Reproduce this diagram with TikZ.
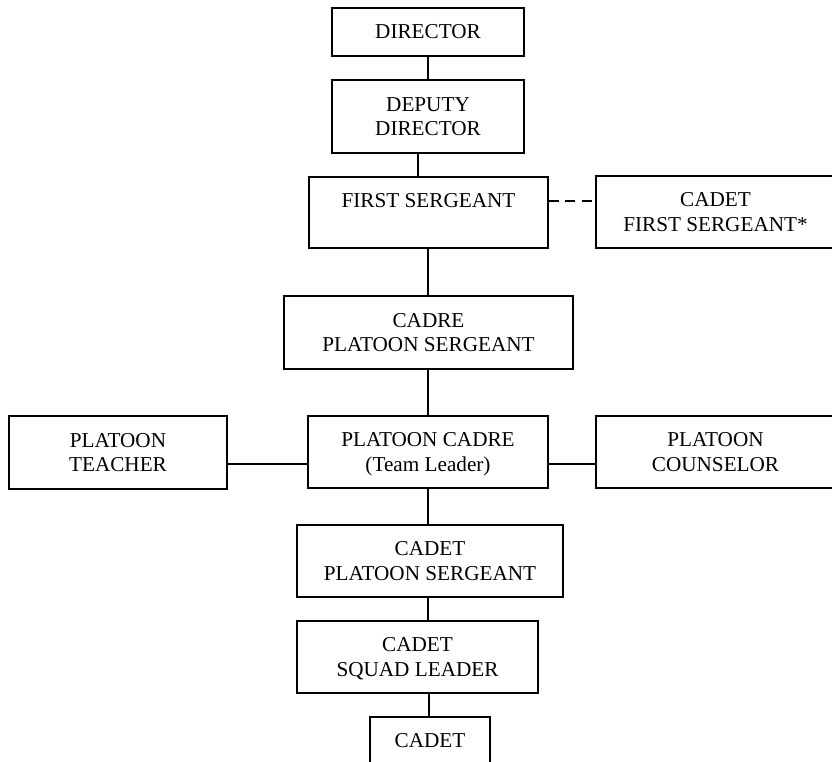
\documentclass[tikz,border=0pt]{standalone}
\usepackage{fontspec}
\setmainfont{Liberation Serif}
\begin{document}
\begin{tikzpicture}[x=1pt,y=-1pt,
  box/.style={draw=black,line width=1.3pt,rectangle,inner sep=0pt,align=center,
    font=\fontsize{21.2}{24.3}\selectfont},
  link/.style={draw=black,line width=1.1pt},
  dlink/.style={link,dash pattern=on 10pt off 6.5pt}]
\useasboundingbox (0,0) rectangle (832,762);
\clip (0,0) rectangle (832,762);
\node[box,minimum width=192pt,minimum height=48pt] (dir) at (428,32) {DIRECTOR};
\node[box,minimum width=192pt,minimum height=73pt] (dep) at (428,116.5) {DEPUTY\\DIRECTOR};
\node[box,minimum width=239pt,minimum height=71pt] (fs) at (428.5,212.5) {FIRST SERGEANT\\\mbox{}};
\node[box,minimum width=239pt,minimum height=72pt] (cfs) at (715.5,212) {CADET\\FIRST SERGEANT*};
\node[box,minimum width=289pt,minimum height=73pt] (cps) at (428.5,332.5) {CADRE\\PLATOON SERGEANT};
\node[box,minimum width=218pt,minimum height=73pt] (pt) at (118,452.5) {PLATOON\\TEACHER};
\node[box,minimum width=240pt,minimum height=72pt] (pc) at (428,452) {PLATOON CADRE\\\smash{(Team Leader)}};
\node[box,minimum width=239pt,minimum height=72pt] (pco) at (715.5,452) {PLATOON\\COUNSELOR};
\node[box,minimum width=266pt,minimum height=72pt] (cpls) at (430,561) {CADET\\PLATOON SERGEANT};
\node[box,minimum width=241pt,minimum height=72pt] (csl) at (417.5,657) {CADET\\\smash{SQUAD LEADER}};
\node[box,minimum width=120pt,minimum height=48pt] (cad) at (430,741) {CADET};
\coordinate (xa) at (428,0);
\coordinate (xb) at (418,0);
\coordinate (xc) at (429,0);
\coordinate (ya) at (0,201);
\coordinate (yb) at (0,464);
\draw[link] (dir.south -| xa) -- (dep.north -| xa);
\draw[link] (dep.south -| xb) -- (fs.north -| xb);
\draw[link] (fs.south -| xa) -- (cps.north -| xa);
\draw[link] (cps.south -| xa) -- (pc.north -| xa);
\draw[link] (pc.south -| xa) -- (cpls.north -| xa);
\draw[link] (cpls.south -| xa) -- (csl.north -| xa);
\draw[link] (csl.south -| xc) -- (cad.north -| xc);
\draw[dlink] (fs.east |- ya) -- (cfs.west |- ya);
\draw[link] (pt.east |- yb) -- (pc.west |- yb);
\draw[link] (pc.east |- yb) -- (pco.west |- yb);
\end{tikzpicture}
\end{document}
